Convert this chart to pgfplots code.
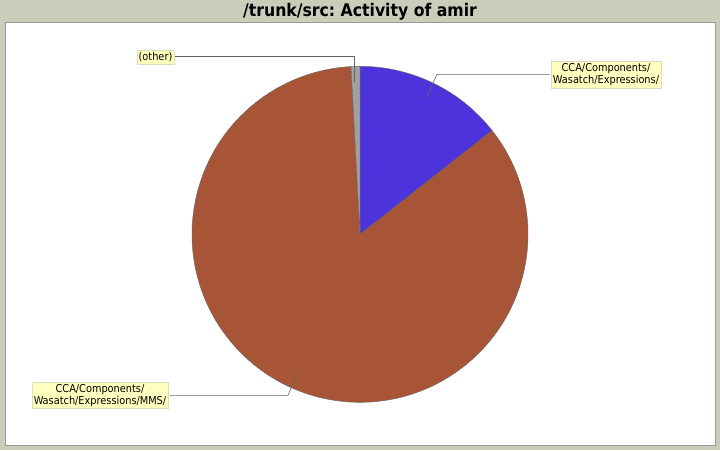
\documentclass[border=0pt]{standalone}
\usepackage{pgfplots}
\usepackage{pgfplotstable}
\pgfplotsset{compat=1.18}
\usepackage{fontspec}
\setmainfont{DejaVu Sans Condensed}
\frenchspacing

\definecolor{bgcol}{RGB}{204,204,187}
\definecolor{slblue}{RGB}{76,51,220}
\definecolor{slbrown}{RGB}{168,84,54}
\definecolor{slgray}{RGB}{160,160,160}
\definecolor{boxfill}{RGB}{255,255,192}
\definecolor{boxedge}{RGB}{220,220,190}
\definecolor{leader}{RGB}{100,100,100}

% share of activity per directory, clockwise from 12 o'clock
\pgfplotstableread{
idx value
0 14.40
1 84.75
2 0.85
}\pietable

\pgfplotstablegetelem{0}{value}\of\pietable \let\va\pgfplotsretval
\pgfplotstablegetelem{1}{value}\of\pietable \let\vb\pgfplotsretval
\pgfmathsetmacro\aone{90-3.6*\va}
\pgfmathsetmacro\atwo{\aone-3.6*\vb}

\begin{document}
\begin{tikzpicture}
\begin{axis}[
  width=720bp, height=450bp, scale only axis,
  xmin=0, xmax=720, ymin=0, ymax=450,
  y dir=reverse, hide axis, clip=false,
]
  % frame
  \fill[bgcol] (axis cs:0,0) rectangle (axis cs:720,450);
  \filldraw[fill=white, draw=gray!80] (axis cs:5,22) rectangle (axis cs:715,445);
  \node[font=\fontsize{17.5}{19}\selectfont\bfseries] at (axis cs:360,11.5)
    {/trunk/src: Activity of amir};

  % slices
  \filldraw[fill=slblue, draw=black!60, line width=0.4pt]
    (axis cs:360,234) -- ++(90:168bp) arc[start angle=90, end angle=\aone, radius=168bp] -- cycle;
  \filldraw[fill=slbrown, draw=black!60, line width=0.4pt]
    (axis cs:360,234) -- ++(\aone:168bp) arc[start angle=\aone, end angle=\atwo, radius=168bp] -- cycle;
  \filldraw[fill=slgray, draw=black!60, line width=0.4pt]
    (axis cs:360,234) -- ++(\atwo:168bp) arc[start angle=\atwo, end angle=-270, radius=168bp] -- cycle;

  % leader lines
  \draw[leader, line width=0.6pt] (axis cs:174,56) -- (axis cs:354,56) -- (axis cs:354,82);
  \draw[leader, line width=0.6pt] (axis cs:550,74) -- (axis cs:437,74) -- (axis cs:426,98);
  \draw[leader, line width=0.6pt] (axis cs:170,395) -- (axis cs:288,395) -- (axis cs:298,372);

  % labels
  \tikzset{lbl/.style={fill=boxfill, draw=boxedge, line width=0.6pt, inner sep=1.8bp,
    align=center, font=\fontsize{10.9}{12.5}\selectfont}}
  \node[lbl] at (axis cs:155.5,57) {(other)};
  \node[lbl] at (axis cs:606,74.5) {CCA/Components/\\Wasatch/Expressions/};
  \node[lbl] at (axis cs:100,395) {CCA/Components/\\Wasatch/Expressions/MMS/};
\end{axis}
\end{tikzpicture}
\end{document}
